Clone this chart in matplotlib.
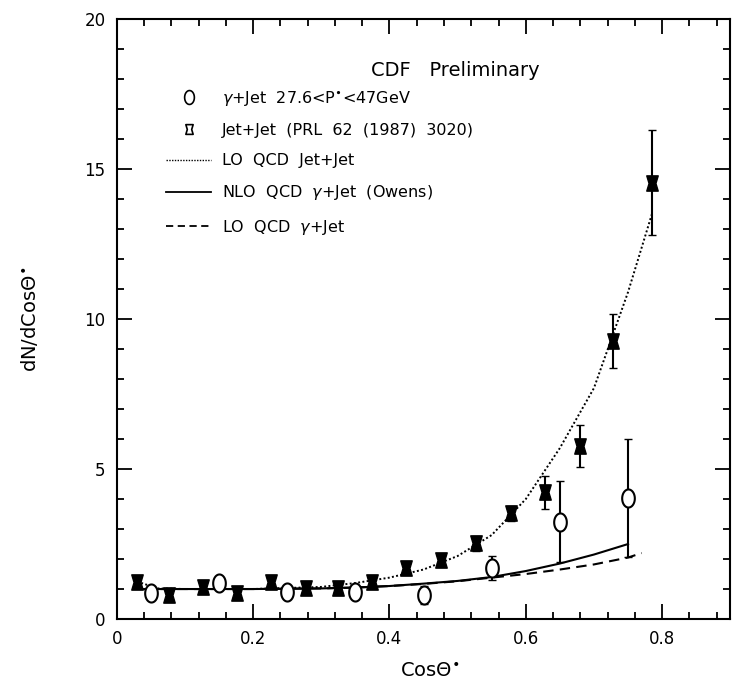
import numpy as np
import matplotlib
matplotlib.use("Agg")
from matplotlib import pyplot as plt
from matplotlib.path import Path
from matplotlib.lines import Line2D
from matplotlib.ticker import MultipleLocator

# Datos leidos de la figura
# gamma + jet (circulos abiertos)
gam_x = [0.05, 0.15, 0.25, 0.35, 0.45, 0.55, 0.65, 0.75]
gam_y = [0.87, 1.2, 0.9, 0.9, 0.8, 1.7, 3.25, 4.03]
gam_err = [0.2, 0.2, 0.15, 0.15, 0.3, 0.4, 1.35, 1.97]

# jet + jet (PRL 62)
jet_x = [0.03, 0.077, 0.127, 0.177, 0.227, 0.277, 0.325, 0.375,
         0.425, 0.476, 0.527, 0.578, 0.628, 0.679, 0.728, 0.785]
jet_y = [1.23, 0.8, 1.07, 0.87, 1.23, 1.03, 1.03, 1.23,
         1.7, 1.97, 2.53, 3.53, 4.23, 5.77, 9.27, 14.55]
jet_err = [0.12, 0.12, 0.12, 0.12, 0.12, 0.12, 0.12, 0.12,
           0.2, 0.2, 0.25, 0.25, 0.55, 0.7, 0.9, 1.75]

# curvas teoricas
lo_jj_x = [0.03, 0.06, 0.1, 0.2, 0.3, 0.35, 0.4, 0.45, 0.5, 0.55, 0.6, 0.65, 0.7, 0.75, 0.785]
lo_jj_y = [1.25, 1.02, 1.0, 1.0, 1.07, 1.2, 1.38, 1.65, 2.1, 2.8, 4.0, 5.7, 7.7, 10.9, 13.5]

nlo_x = [0.04, 0.1, 0.2, 0.3, 0.35, 0.4, 0.45, 0.5, 0.55, 0.6, 0.65, 0.7, 0.75]
nlo_y = [1.0, 1.0, 1.0, 1.02, 1.05, 1.1, 1.18, 1.27, 1.4, 1.6, 1.85, 2.15, 2.5]

lo_g_x = [0.04, 0.1, 0.2, 0.3, 0.35, 0.4, 0.45, 0.5, 0.55, 0.6, 0.65, 0.7, 0.75, 0.77]
lo_g_y = [1.0, 1.0, 1.0, 1.02, 1.05, 1.1, 1.17, 1.26, 1.38, 1.5, 1.65, 1.82, 2.05, 2.2]

labels = [r"$\gamma$+Jet  27.6<P$^{\bullet}$<47GeV",
          "Jet+Jet  (PRL  62  (1987)  3020)",
          "LO  QCD  Jet+Jet",
          r"NLO  QCD  $\gamma$+Jet  (Owens)",
          r"LO  QCD  $\gamma$+Jet"]

# marcador tipo "carrete" para jet+jet
bobbin = Path([(-0.75, 1), (0.75, 1), (0.45, 0), (0.75, -1), (-0.75, -1), (-0.45, 0), (-0.75, 1)],
              [Path.MOVETO] + [Path.LINETO] * 5 + [Path.CLOSEPOLY])
# circulo alargado (elipse) para gamma+jet
t = np.linspace(0, 2 * np.pi, 60)
oval = Path(np.column_stack([0.7 * np.cos(t), np.sin(t)]), closed=True)

plt.rcParams["mathtext.fontset"] = "dejavusans"
fig = plt.figure(figsize=(7.34, 6.81), dpi=100)
ax = fig.add_axes([0.159, 0.091, 0.836, 0.881])

ax.plot(lo_jj_x, lo_jj_y, color="black", lw=1.4, linestyle=(0, (1, 1.2)))
ax.plot(nlo_x, nlo_y, color="black", lw=1.5)
ax.plot(lo_g_x, lo_g_y, color="black", lw=1.5, linestyle=(0, (5, 3)))

ax.errorbar(jet_x, jet_y, yerr=jet_err, fmt="none", ecolor="black", elinewidth=1.5, capsize=3)
ax.plot(jet_x, jet_y, linestyle="none", marker=bobbin, ms=11, color="black")

ax.errorbar(gam_x, gam_y, yerr=gam_err, fmt="none", ecolor="black", elinewidth=1.5, capsize=3)
ax.plot(gam_x, gam_y, linestyle="none", marker=oval, ms=13, mfc="white", mec="black", mew=1.5)

ax.set_xlim(0, 0.9)
ax.set_ylim(0, 20)
ax.xaxis.set_major_locator(MultipleLocator(0.2))
ax.xaxis.set_minor_locator(MultipleLocator(0.04))
ax.yaxis.set_major_locator(MultipleLocator(5))
ax.yaxis.set_minor_locator(MultipleLocator(1))
ax.set_xticks([0, 0.2, 0.4, 0.6, 0.8])
ax.set_xticklabels(["0", "0.2", "0.4", "0.6", "0.8"])
ax.tick_params(which="both", direction="in", top=True, right=True, width=1.3)
ax.tick_params(which="major", length=11, labelsize=12, pad=8)
ax.tick_params(which="minor", length=5)
for s in ax.spines.values():
    s.set_linewidth(1.5)

ax.set_xlabel(r"Cos$\Theta^{\bullet}$", fontsize=14)
ax.set_ylabel(r"dN/dCos$\Theta^{\bullet}$", fontsize=14)
ax.xaxis.set_label_coords(0.51, -0.07)
ax.yaxis.set_label_coords(-0.125, 0.5)

ax.text(0.552, 0.915, "CDF   Preliminary", transform=ax.transAxes, fontsize=14,
        ha="center", va="center")

handles = [
    Line2D([], [], linestyle="none", marker=oval, ms=10, mfc="white", mec="black", mew=1.2),
    Line2D([], [], linestyle="none", marker=bobbin, ms=7, mfc="white", mec="black", mew=1.2),
    Line2D([], [], color="black", lw=1.0, linestyle=(0, (1, 1.0))),
    Line2D([], [], color="black", lw=1.3),
    Line2D([], [], color="black", lw=1.3, linestyle=(0, (4, 2.5))),
]
ax.legend(handles, labels, loc="upper left", bbox_to_anchor=(0.068, 0.897), frameon=False,
          fontsize=11.5, handlelength=2.8, handletextpad=0.7, labelspacing=0.95, borderpad=0)

fig.savefig("out.png", dpi=100)
